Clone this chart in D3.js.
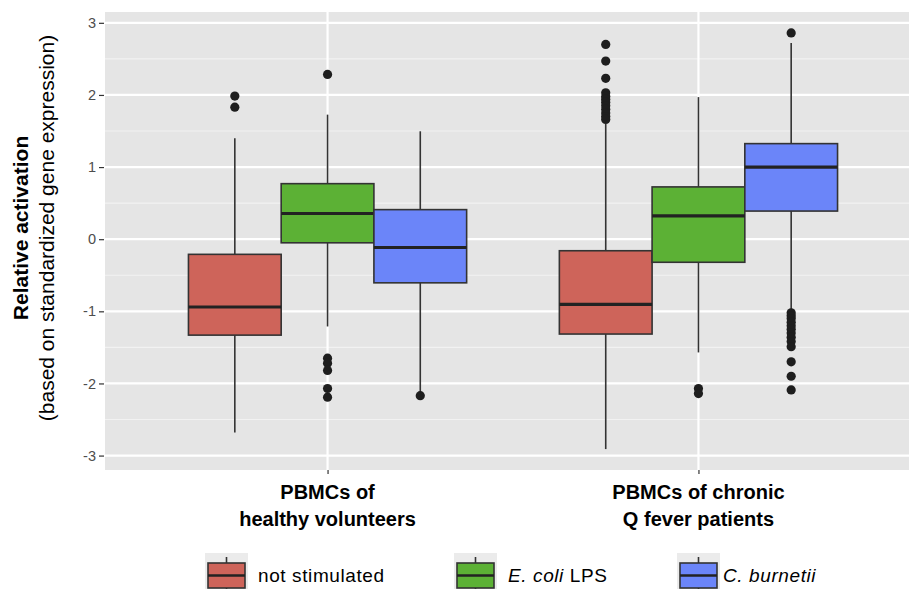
<!DOCTYPE html>
<html><head><meta charset="utf-8">
<script src="https://cdn.jsdelivr.net/npm/d3@7"></script>
<style>
html,body{margin:0;padding:0;background:#fff;}
svg{display:block;font-family:"Liberation Sans",Arial,sans-serif;}
</style></head>
<body>
<svg id="chart" width="909" height="589"></svg>
<script>
// ---------- DATA ----------
const groups = ["healthy", "chronic"];
const groupLabels = [["PBMCs of", "healthy volunteers"], ["PBMCs of chronic", "Q fever patients"]];
const series = ["not stimulated", "E. coli LPS", "C. burnetii"];
const seriesColors = ["#CE645A", "#5CB135", "#6B85F9"];
const yTicks = [-3, -2, -1, 0, 1, 2, 3];
// per group: [not stimulated, E. coli LPS, C. burnetii]
const lowerWhisker = [[-2.68, -1.21, -2.15], [-2.91, -1.57, -0.98]];
const q1 = [[-1.33, -0.05, -0.605], [-1.315, -0.32, 0.39]];
const median = [[-0.94, 0.356, -0.115], [-0.905, 0.323, 1.00]];
const q3 = [[-0.21, 0.77, 0.41], [-0.16, 0.725, 1.325]];
const upperWhisker = [[1.40, 1.727, 1.496], [1.60, 1.97, 2.72]];
const outliers = [
  [[1.985, 1.83], [2.285, -1.65, -1.72, -1.82, -2.07, -2.19], [-2.17]],
  [[2.70, 2.47, 2.23, 2.03, 1.98, 1.94, 1.90, 1.85, 1.80, 1.75, 1.70, 1.66],
   [-2.07, -2.14],
   [2.86, -1.02, -1.06, -1.10, -1.15, -1.20, -1.25, -1.30, -1.36, -1.42, -1.49, -1.70, -1.90, -2.09]]
];
const minorTicks = [-2.5, -1.5, -0.5, 0.5, 1.5, 2.5];

// ---------- LAYOUT ----------
const svg = d3.select("#chart");
const panel = {left: 105, right: 921, top: 12, bottom: 470};

const y = d3.scaleLinear().domain([-3.2, 3.15]).range([panel.bottom, panel.top]);
const x = d3.scalePoint().domain(groups).range([panel.left, panel.right]).padding(0.6);
const step = x.step();
const dodge = d3.scaleBand().domain(series).range([-0.375 * step, 0.375 * step]);

svg.append("rect").attr("x", panel.left).attr("y", panel.top)
  .attr("width", panel.right - panel.left).attr("height", panel.bottom - panel.top)
  .attr("fill", "#E5E5E5");

// minor grid
svg.append("g").selectAll("line").data(minorTicks).join("line")
  .attr("x1", panel.left).attr("x2", panel.right)
  .attr("y1", d => y(d)).attr("y2", d => y(d))
  .attr("stroke", "#F2F2F2").attr("stroke-width", 1.2);
// major grid
svg.append("g").selectAll("line").data(yTicks).join("line")
  .attr("x1", panel.left).attr("x2", panel.right)
  .attr("y1", d => y(d)).attr("y2", d => y(d))
  .attr("stroke", "#fff").attr("stroke-width", 2.2);
svg.append("g").selectAll("line").data(groups).join("line")
  .attr("x1", d => x(d)).attr("x2", d => x(d))
  .attr("y1", panel.top).attr("y2", panel.bottom)
  .attr("stroke", "#fff").attr("stroke-width", 2.2);

// y axis
const yAxis = d3.axisLeft(y).tickValues(yTicks).tickSize(5).tickPadding(3).tickFormat(d3.format("d"));
const yg = svg.append("g").attr("transform", `translate(${panel.left - 1},0)`).call(yAxis);
yg.select(".domain").remove();
yg.selectAll("line").attr("stroke", "#333").attr("stroke-width", 1.2);
yg.selectAll("text").attr("fill", "#4D4D4D").style("font-size", "14.5px").style("font-family", '"Liberation Sans",Arial,sans-serif')
  .text(d => d < 0 ? "-" + Math.abs(d) : d);

// x axis
const xAxis = d3.axisBottom(x).tickSize(4).tickFormat("");
const xg = svg.append("g").attr("transform", `translate(0,${panel.bottom})`).call(xAxis);
xg.select(".domain").remove();
xg.selectAll("line").attr("stroke", "#333").attr("stroke-width", 1.2);

groups.forEach((g, gi) => {
  const t = svg.append("text").attr("x", x(g)).attr("text-anchor", "middle")
    .attr("font-weight", "bold").attr("font-size", 20).attr("fill", "#000");
  t.append("tspan").attr("x", x(g)).attr("y", 499).text(groupLabels[gi][0]);
  t.append("tspan").attr("x", x(g)).attr("y", 526).text(groupLabels[gi][1]);
});

// y title
const yt = svg.append("g").attr("transform", `translate(0,228) rotate(-90)`);
yt.append("text").attr("x", 0).attr("y", 28).attr("text-anchor", "middle")
  .attr("font-weight", "bold").attr("font-size", 21).text("Relative activation");
yt.append("text").attr("x", 0).attr("y", 54).attr("text-anchor", "middle")
  .attr("font-size", 21).text("(based on standardized gene expression)");

// ---------- BOXES ----------
const boxData = [];
groups.forEach((g, gi) => series.forEach((s, si) => {
  boxData.push({g, s, si, lo: lowerWhisker[gi][si], q1: q1[gi][si], med: median[gi][si],
    q3: q3[gi][si], hi: upperWhisker[gi][si], out: outliers[gi][si]});
}));
const bw = dodge.bandwidth();
const bx = d => x(d.g) + dodge(d.s);
const boxes = svg.append("g").selectAll("g").data(boxData).join("g");
boxes.append("line").attr("x1", d => bx(d) + bw / 2).attr("x2", d => bx(d) + bw / 2)
  .attr("y1", d => y(d.hi)).attr("y2", d => y(d.q3)).attr("stroke", "#333").attr("stroke-width", 1.6);
boxes.append("line").attr("x1", d => bx(d) + bw / 2).attr("x2", d => bx(d) + bw / 2)
  .attr("y1", d => y(d.q1)).attr("y2", d => y(d.lo)).attr("stroke", "#333").attr("stroke-width", 1.6);
boxes.append("rect").attr("x", d => bx(d)).attr("width", bw)
  .attr("y", d => y(d.q3)).attr("height", d => y(d.q1) - y(d.q3))
  .attr("fill", d => seriesColors[d.si]).attr("stroke", "#333").attr("stroke-width", 1.6);
boxes.append("line").attr("x1", d => bx(d)).attr("x2", d => bx(d) + bw)
  .attr("y1", d => y(d.med)).attr("y2", d => y(d.med)).attr("stroke", "#222").attr("stroke-width", 3.2);
boxes.selectAll("circle").data(d => d.out.map(v => ({v, cx: bx(d) + bw / 2}))).join("circle")
  .attr("cx", d => d.cx).attr("cy", d => y(d.v)).attr("r", 4.6).attr("fill", "#1E1E1E");

// ---------- LEGEND ----------
const legendX = [205, 454, 677];
const legendTextX = [53, 54, 46];
const legendText = [
  [{t: "not stimulated", i: false}],
  [{t: "E. coli", i: true}, {t: " LPS", i: false}],
  [{t: "C. burnetii", i: true}]
];
series.forEach((s, si) => {
  const lg = svg.append("g").attr("transform", `translate(${legendX[si]},553)`);
  lg.append("rect").attr("width", 43).attr("height", 38).attr("fill", "#EBEBEB");
  lg.append("line").attr("x1", 21.5).attr("x2", 21.5).attr("y1", 4).attr("y2", 38).attr("stroke", "#333").attr("stroke-width", 1.6);
  lg.append("rect").attr("x", 3).attr("y", 10).attr("width", 37).attr("height", 25)
    .attr("fill", seriesColors[si]).attr("stroke", "#333").attr("stroke-width", 1.6);
  lg.append("line").attr("x1", 3).attr("x2", 40).attr("y1", 22.5).attr("y2", 22.5).attr("stroke", "#222").attr("stroke-width", 2.6);
  const tx = lg.append("text").attr("x", legendTextX[si]).attr("y", 29).attr("font-size", 19)
    .attr("letter-spacing", 0.6).attr("fill", "#000");
  legendText[si].forEach(p => tx.append("tspan").attr("font-style", p.i ? "italic" : "normal").text(p.t));
});
</script>
</body></html>
